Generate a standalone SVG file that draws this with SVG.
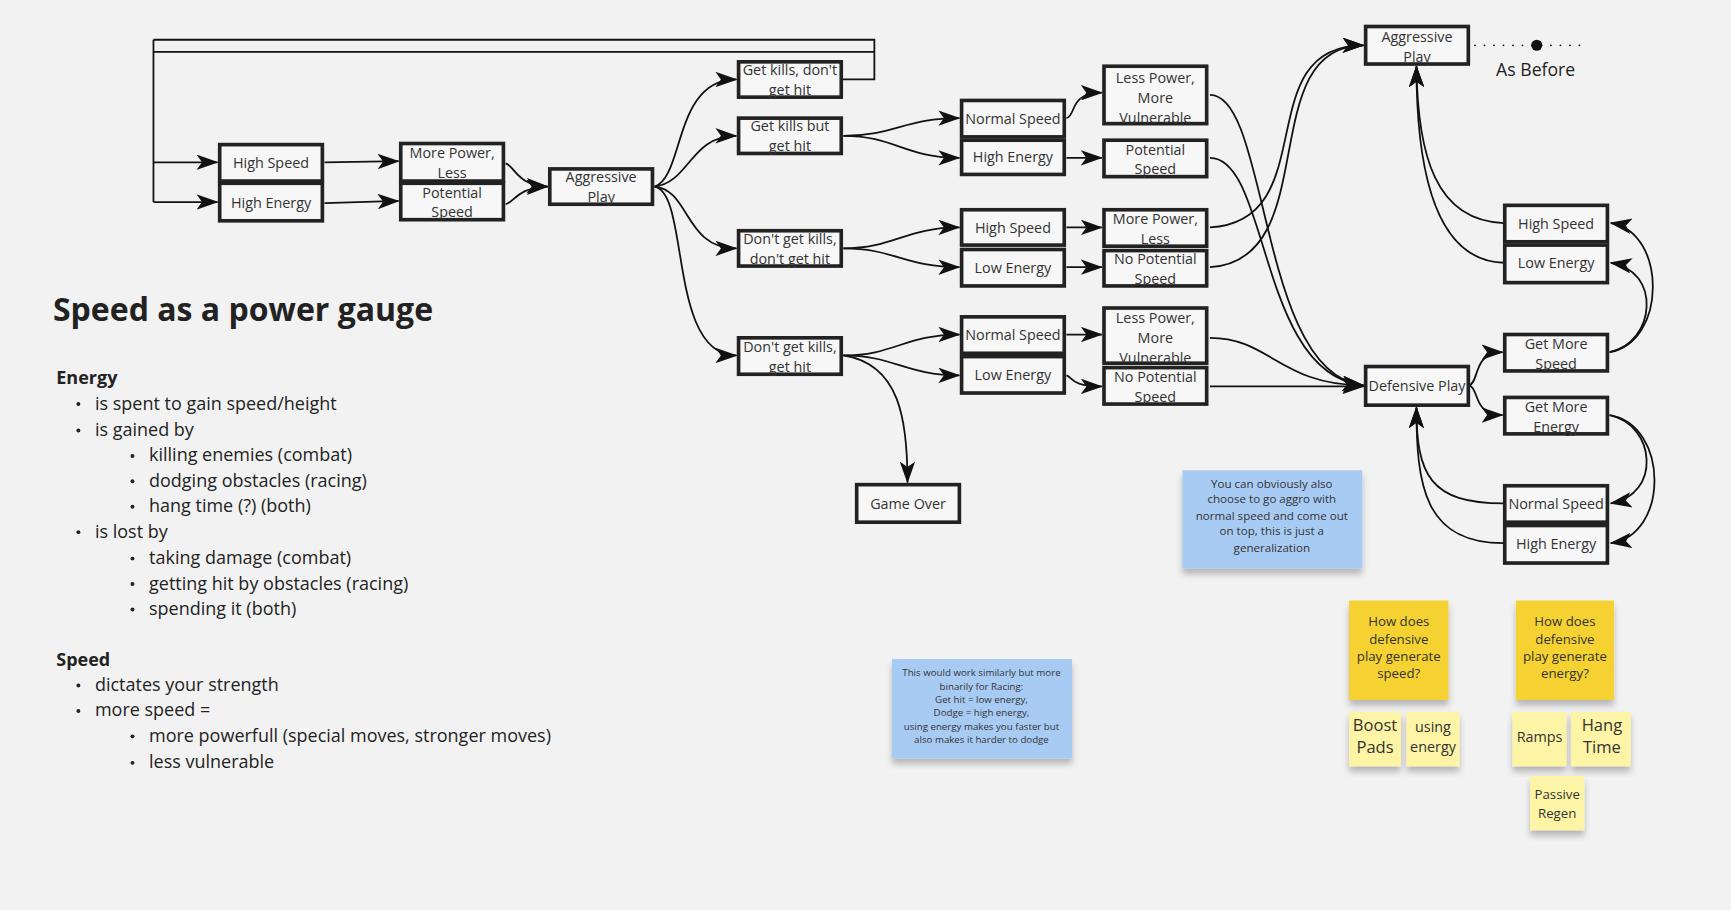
<svg xmlns="http://www.w3.org/2000/svg" width="1731" height="910" viewBox="0 0 1731 910">
<style>
.n rect{fill:#f7f7f7;stroke:#222;stroke-width:3.3}
.n text{font-family:"Open Sans",sans-serif;font-size:13px;fill:#333;text-anchor:middle}
#connectors path{fill:none;stroke:#111;stroke-width:1.6}
.t{font-family:"Open Sans",sans-serif;fill:#222}
.s text{font-family:"Open Sans",sans-serif;fill:#333;text-anchor:middle}
</style>
<defs>
<marker id="a" viewBox="0 0 20 14" refX="19" refY="7" markerWidth="20" markerHeight="14" markerUnits="userSpaceOnUse" orient="auto"><path d="M0,0 L20,7 L0,14 L5,7 Z" fill="#111"/></marker>
<filter id="sh" x="-10%" y="-10%" width="120%" height="130%"><feDropShadow dx="0" dy="5" stdDeviation="3" flood-color="#000" flood-opacity="0.25"/></filter>
</defs>
<rect width="1731" height="910" fill="#f2f2f2"/>
<g transform="scale(1.104)">
<g id="connectors">
<path d="M139,36 H792 V72 H762"/>
<path d="M139,47 H792"/>
<path d="M139,36 V183"/>
<path d="M139,147 H197" marker-end="url(#a)"/>
<path d="M139,183 H197" marker-end="url(#a)"/>
<path d="M294,147 L361,146" marker-end="url(#a)"/>
<path d="M294,184 L361,182" marker-end="url(#a)"/>
<path d="M458,148 C466,150 468,168 496,169" marker-end="url(#a)"/>
<path d="M458,185 C466,183 468,170 496,169" marker-end="url(#a)"/>
<path d="M593,169 C620,160 610,72 667,72" marker-end="url(#a)"/>
<path d="M593,169 C625,165 625,123 667,123" marker-end="url(#a)"/>
<path d="M593,169 C625,172 620,225 667,225" marker-end="url(#a)"/>
<path d="M593,169 C625,175 605,322 667,322" marker-end="url(#a)"/>
<path d="M764,123 C810,123 820,107 869,107" marker-end="url(#a)"/>
<path d="M764,123 C810,123 820,143 869,143" marker-end="url(#a)"/>
<path d="M966,107 C975,105 968,84 998,84" marker-end="url(#a)"/>
<path d="M966,143 H998" marker-end="url(#a)"/>
<path d="M764,225 C810,225 820,206 869,206" marker-end="url(#a)"/>
<path d="M764,225 C810,225 820,242 869,242" marker-end="url(#a)"/>
<path d="M966,206 H998" marker-end="url(#a)"/>
<path d="M966,242 H998" marker-end="url(#a)"/>
<path d="M764,322 C810,322 820,303 869,303" marker-end="url(#a)"/>
<path d="M764,322 C810,322 820,340 869,340" marker-end="url(#a)"/>
<path d="M764,322 C815,330 822,380 822,437" marker-end="url(#a)"/>
<path d="M966,303 H998" marker-end="url(#a)"/>
<path d="M966,340 C972,342 970,350 998,350" marker-end="url(#a)"/>
<path d="M1096,86 C1150,86 1140,340 1235,349" marker-end="url(#a)"/>
<path d="M1096,143 C1150,143 1140,340 1235,349" marker-end="url(#a)"/>
<path d="M1096,206 C1200,200 1130,41 1235,41" marker-end="url(#a)"/>
<path d="M1096,242 C1200,236 1135,41 1235,41" marker-end="url(#a)"/>
<path d="M1096,306 C1150,306 1160,349 1235,349" marker-end="url(#a)"/>
<path d="M1096,350 H1235" marker-end="url(#a)"/>
<path d="M1336,41 H1435" stroke-dasharray="0.1 8.5" stroke-linecap="round" stroke-width="4"/>
<path d="M1362,202 C1300,200 1284,140 1283,60" marker-end="url(#a)"/>
<path d="M1362,238 C1295,236 1283,140 1283,60" marker-end="url(#a)"/>
<path d="M1331,349 C1340,346 1334,319 1361,319" marker-end="url(#a)"/>
<path d="M1331,349 C1340,352 1334,376 1361,376" marker-end="url(#a)"/>
<path d="M1458,319 C1510,310 1510,210 1459,202" marker-end="url(#a)"/>
<path d="M1458,319 C1500,310 1505,245 1459,238" marker-end="url(#a)"/>
<path d="M1458,376 C1500,385 1505,448 1459,456" marker-end="url(#a)"/>
<path d="M1458,376 C1512,385 1512,485 1459,492" marker-end="url(#a)"/>
<path d="M1362,456 C1295,456 1283,430 1283,369" marker-end="url(#a)"/>
<path d="M1362,492 C1290,492 1283,440 1283,369" marker-end="url(#a)"/>
</g>
<circle cx="1392" cy="41" r="5" fill="#111"/>
<text class="t" x="1391" y="69" font-size="16" text-anchor="middle">As Before</text>

<g id="n1" class="n"><rect x="199" y="131" width="93" height="33"/><text x="245.5" y="152">High Speed</text></g>
<g id="n2" class="n"><rect x="199" y="166" width="93" height="34"/><text x="245.5" y="188">High Energy</text></g>
<g id="n3" class="n"><rect x="363" y="130" width="93" height="34"/><text x="409.5" y="143">More Power,</text><text x="409.5" y="161">Less</text></g>
<g id="n4" class="n"><rect x="363" y="166" width="93" height="33"/><text x="409.5" y="179">Potential</text><text x="409.5" y="197">Speed</text></g>
<g id="n5" class="n"><rect x="498" y="153" width="93" height="32"/><text x="544.5" y="165">Aggressive</text><text x="544.5" y="183">Play</text></g>
<g id="n6" class="n"><rect x="669" y="56" width="93" height="32"/><text x="715.5" y="68">Get kills, don't</text><text x="715.5" y="86">get hit</text></g>
<g id="n7" class="n"><rect x="669" y="107" width="93" height="32"/><text x="715.5" y="119">Get kills but</text><text x="715.5" y="137">get hit</text></g>
<g id="n8" class="n"><rect x="669" y="209" width="93" height="32"/><text x="715.5" y="221">Don't get kills,</text><text x="715.5" y="239">don't get hit</text></g>
<g id="n9" class="n"><rect x="669" y="306" width="93" height="33"/><text x="715.5" y="319">Don't get kills,</text><text x="715.5" y="337">get hit</text></g>
<g id="n10" class="n"><rect x="871" y="91" width="93" height="33"/><text x="917.5" y="112">Normal Speed</text></g>
<g id="n11" class="n"><rect x="871" y="127" width="93" height="31"/><text x="917.5" y="147">High Energy</text></g>
<g id="n12" class="n"><rect x="1000" y="60" width="93" height="52"/><text x="1046.5" y="75">Less Power,</text><text x="1046.5" y="93">More</text><text x="1046.5" y="111">Vulnerable</text></g>
<g id="n13" class="n"><rect x="1000" y="127" width="93" height="33"/><text x="1046.5" y="140">Potential</text><text x="1046.5" y="158">Speed</text></g>
<g id="n14" class="n"><rect x="871" y="190" width="93" height="32"/><text x="917.5" y="211">High Speed</text></g>
<g id="n15" class="n"><rect x="871" y="226" width="93" height="33"/><text x="917.5" y="247">Low Energy</text></g>
<g id="n16" class="n"><rect x="1000" y="190" width="93" height="33"/><text x="1046.5" y="203">More Power,</text><text x="1046.5" y="221">Less</text></g>
<g id="n17" class="n"><rect x="1000" y="227" width="93" height="32"/><text x="1046.5" y="239">No Potential</text><text x="1046.5" y="257">Speed</text></g>
<g id="n18" class="n"><rect x="871" y="287" width="93" height="33"/><text x="917.5" y="308">Normal Speed</text></g>
<g id="n19" class="n"><rect x="871" y="323" width="93" height="33"/><text x="917.5" y="344">Low Energy</text></g>
<g id="n20" class="n"><rect x="1000" y="279" width="93" height="50"/><text x="1046.5" y="293">Less Power,</text><text x="1046.5" y="311">More</text><text x="1046.5" y="329">Vulnerable</text></g>
<g id="n21" class="n"><rect x="1000" y="333" width="93" height="33"/><text x="1046.5" y="346">No Potential</text><text x="1046.5" y="364">Speed</text></g>
<g id="n22" class="n"><rect x="776" y="439" width="93" height="34"/><text x="822.5" y="461">Game Over</text></g>
<g id="n23" class="n"><rect x="1237" y="24" width="93" height="34"/><text x="1283.5" y="38">Aggressive</text><text x="1283.5" y="56">Play</text></g>
<g id="n24" class="n"><rect x="1237" y="332" width="93" height="35"/><text x="1283.5" y="354">Defensive Play</text></g>
<g id="n25" class="n"><rect x="1363" y="186" width="93" height="33"/><text x="1409.5" y="207">High Speed</text></g>
<g id="n26" class="n"><rect x="1363" y="222" width="93" height="34"/><text x="1409.5" y="243">Low Energy</text></g>
<g id="n27" class="n"><rect x="1363" y="303" width="93" height="33"/><text x="1409.5" y="316">Get More</text><text x="1409.5" y="334">Speed</text></g>
<g id="n28" class="n"><rect x="1363" y="360" width="93" height="33"/><text x="1409.5" y="373">Get More</text><text x="1409.5" y="391">Energy</text></g>
<g id="n29" class="n"><rect x="1363" y="440" width="93" height="33"/><text x="1409.5" y="461">Normal Speed</text></g>
<g id="n30" class="n"><rect x="1363" y="476" width="93" height="34"/><text x="1409.5" y="497">High Energy</text></g>

<g id="notes" class="s">
<rect x="1071" y="426" width="163" height="89" fill="#a8cbf3" filter="url(#sh)"/>
<g font-size="10.5"><text x="1152" y="442">You can obviously also</text><text x="1152" y="456">choose to go aggro with</text><text x="1152" y="471">normal speed and come out</text><text x="1152" y="485">on top, this is just a</text><text x="1152" y="500">generalization</text></g>
<rect x="808" y="597" width="163" height="90" fill="#a8cbf3" filter="url(#sh)"/>
<g font-size="8.8"><text x="889" y="612">This would work similarly but more</text><text x="889" y="625">binarily for Racing:</text><text x="889" y="637">Get hit = low energy,</text><text x="889" y="649">Dodge = high energy,</text><text x="889" y="661">using energy makes you faster but</text><text x="889" y="673">also makes it harder to dodge</text></g>
<rect x="1222" y="544" width="90" height="90" fill="#f5d232" filter="url(#sh)"/>
<g font-size="12"><text x="1267" y="567">How does</text><text x="1267" y="583">defensive</text><text x="1267" y="599">play generate</text><text x="1267" y="614">speed?</text></g>
<rect x="1373" y="544" width="89" height="90" fill="#f5d232" filter="url(#sh)"/>
<g font-size="12"><text x="1417.5" y="567">How does</text><text x="1417.5" y="583">defensive</text><text x="1417.5" y="599">play generate</text><text x="1417.5" y="614">energy?</text></g>
<rect x="1222" y="645" width="47" height="49" fill="#fdf5a5" filter="url(#sh)"/>
<g font-size="15"><text x="1245.5" y="662">Boost</text><text x="1245.5" y="682">Pads</text></g>
<rect x="1274" y="645" width="48" height="49" fill="#fdf5a5" filter="url(#sh)"/>
<g font-size="13"><text x="1298" y="663">using</text><text x="1298" y="681">energy</text></g>
<rect x="1370" y="645" width="49" height="49" fill="#fdf5a5" filter="url(#sh)"/>
<text x="1394.5" y="672" font-size="13">Ramps</text>
<rect x="1423" y="645" width="54" height="49" fill="#fdf5a5" filter="url(#sh)"/>
<g font-size="15"><text x="1451" y="662">Hang</text><text x="1451" y="682">Time</text></g>
<rect x="1386" y="703" width="49" height="49" fill="#fdf5a5" filter="url(#sh)"/>
<g font-size="12"><text x="1410.5" y="724">Passive</text><text x="1410.5" y="741">Regen</text></g>
</g>

<g id="text" class="t">
<text x="48" y="291" font-size="29" font-weight="bold">Speed as a power gauge</text>
<g font-size="16.3">
<text x="51" y="348" font-weight="bold">Energy</text>
<text x="86" y="371">is spent to gain speed/height</text>
<text x="86" y="395">is gained by</text>
<text x="135" y="418">killing enemies (combat)</text>
<text x="135" y="441">dodging obstacles (racing)</text>
<text x="135" y="464">hang time (?) (both)</text>
<text x="86" y="487">is lost by</text>
<text x="135" y="511">taking damage (combat)</text>
<text x="135" y="534">getting hit by obstacles (racing)</text>
<text x="135" y="557">spending it (both)</text>
<text x="51" y="603" font-weight="bold">Speed</text>
<text x="86" y="626">dictates your strength</text>
<text x="86" y="649">more speed =</text>
<text x="135" y="672">more powerfull (special moves, stronger moves)</text>
<text x="135" y="696">less vulnerable</text>
</g>
<g fill="#222"><circle cx="71" cy="366" r="1.8"/><circle cx="71" cy="390" r="1.8"/><circle cx="120" cy="413" r="1.8"/><circle cx="120" cy="436" r="1.8"/><circle cx="120" cy="459" r="1.8"/><circle cx="71" cy="482" r="1.8"/><circle cx="120" cy="506" r="1.8"/><circle cx="120" cy="529" r="1.8"/><circle cx="120" cy="552" r="1.8"/><circle cx="71" cy="621" r="1.8"/><circle cx="71" cy="644" r="1.8"/><circle cx="120" cy="667" r="1.8"/><circle cx="120" cy="691" r="1.8"/></g>
</g>
</g>
</svg>
